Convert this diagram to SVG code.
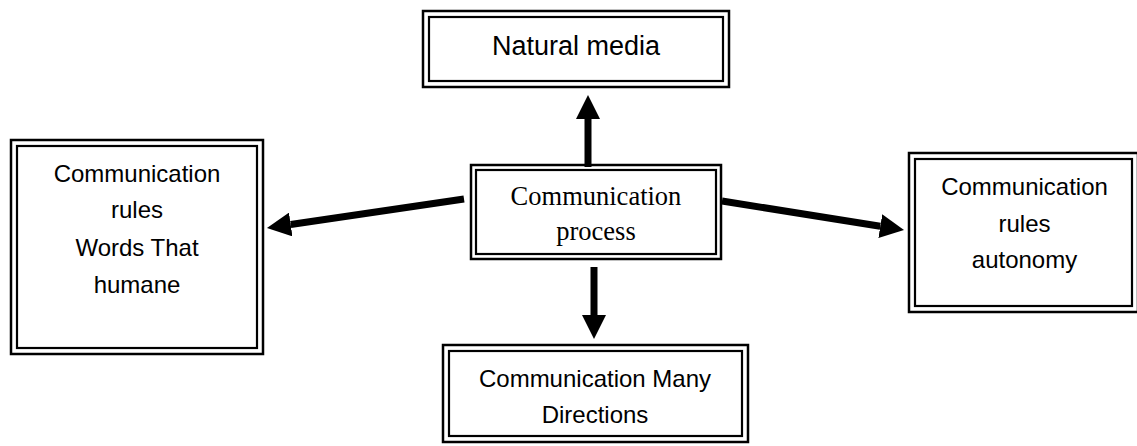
<svg xmlns="http://www.w3.org/2000/svg" width="1137" height="446" viewBox="0 0 1137 446">
<style>
.o{fill:none;stroke:#000;stroke-width:2.5}
.i{fill:none;stroke:#000;stroke-width:2.2}
.t{font-family:"Liberation Sans",Arial,sans-serif;font-size:24px;fill:#000;text-anchor:middle}
.s{font-family:"Liberation Serif","Times New Roman",serif;font-size:26.5px;fill:#000;text-anchor:middle}
.sh{stroke:#000;stroke-width:7;fill:none}
</style>
<defs>
<marker id="ah" markerUnits="userSpaceOnUse" markerWidth="24" markerHeight="24" viewBox="0 0 24 24" refX="0" refY="12" orient="auto">
<path d="M0,0 L24,12 L0,24 z" fill="#000"/>
</marker>
</defs>
<rect width="1137" height="446" fill="#fff"/>
<g id="connectors">
<line class="sh" x1="588" y1="167" x2="588" y2="119" marker-end="url(#ah)"/>
<line class="sh" x1="594" y1="267" x2="594" y2="315" marker-end="url(#ah)"/>
<line class="sh" x1="464" y1="199" x2="290.7" y2="224.5" marker-end="url(#ah)"/>
<line class="sh" x1="722" y1="201" x2="880.3" y2="226.2" marker-end="url(#ah)"/>
</g>
<g id="natural-media">
<rect class="o" x="423" y="11" width="306" height="76"/>
<rect class="i" x="429" y="17" width="294" height="64"/>
<text class="t" x="576" y="55" style="font-size:27px">Natural media</text>
</g>
<g id="rules-words">
<rect class="o" x="11" y="140" width="252" height="214"/>
<rect class="i" x="17" y="146" width="240" height="202"/>
<text class="t" x="137" y="182">Communication</text>
<text class="t" x="137" y="218">rules</text>
<text class="t" x="137" y="256">Words That</text>
<text class="t" x="137" y="293">humane</text>
</g>
<g id="process">
<rect class="o" x="471" y="165" width="250" height="94"/>
<rect class="i" x="476" y="170" width="240" height="84"/>
<text class="s" x="596" y="205">Communication</text>
<text class="s" x="596" y="240">process</text>
</g>
<g id="rules-autonomy">
<rect class="o" x="909" y="153" width="229" height="159"/>
<rect class="i" x="915" y="159" width="217" height="147"/>
<text class="t" x="1024.5" y="195">Communication</text>
<text class="t" x="1024.5" y="232">rules</text>
<text class="t" x="1024.5" y="268">autonomy</text>
</g>
<g id="many-directions">
<rect class="o" x="443" y="345" width="305" height="97"/>
<rect class="i" x="449" y="351" width="293" height="85"/>
<text class="t" x="595" y="387">Communication Many</text>
<text class="t" x="595" y="423">Directions</text>
</g>
</svg>
